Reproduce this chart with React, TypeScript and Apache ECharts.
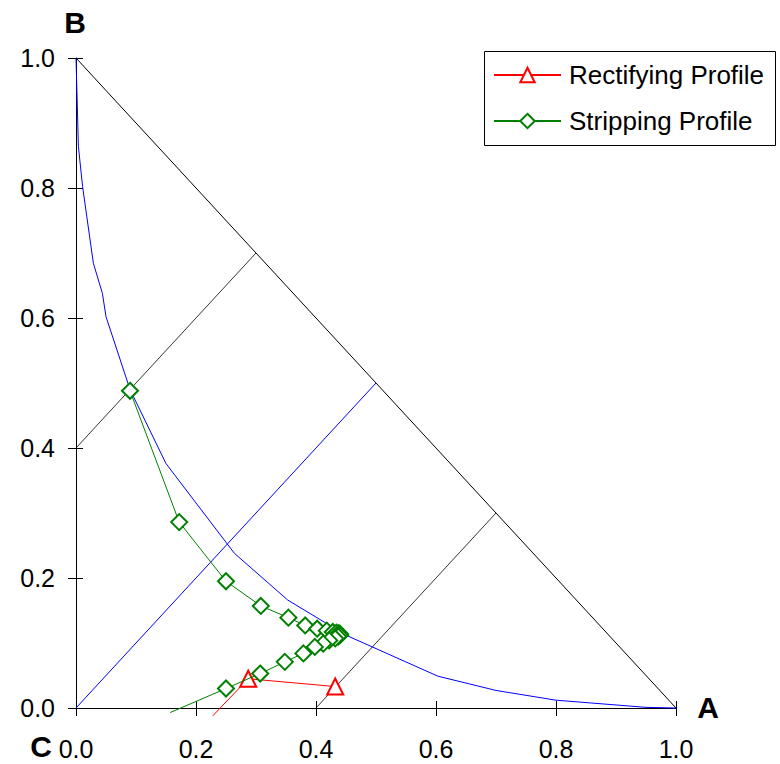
import React, { useEffect, useRef } from "react";
import * as echarts from "echarts";

const tickLabels = ["0.0", "0.2", "0.4", "0.6", "0.8", "1.0"];

// Equilibrium (binodal) curve
const eqCurve: [number, number][] = [
  [0, 1], [0.004, 0.864], [0.011, 0.802], [0.029, 0.684], [0.044, 0.638],
  [0.05, 0.602], [0.09, 0.49], [0.15, 0.376], [0.264, 0.238], [0.353, 0.166],
  [0.45, 0.112], [0.603, 0.049], [0.7, 0.027], [0.8, 0.012], [0.95, 0.001], [1, 0],
];

// Triangle boundary (hypotenuse)
const hypotenuse: [number, number][] = [[0, 1], [1, 0]];
// Black construction lines
const blackLineA: [number, number][] = [[0, 0.4], [0.3, 0.7]];
const blackLineB: [number, number][] = [[0.4, 0], [0.7, 0.3]];
// Blue construction line
const blueLine: [number, number][] = [[0, 0], [0.5, 0.5]];

// Rectifying profile (last point has no marker)
const rectifyingX = [0.432, 0.287, 0.228];
const rectifyingY = [0.033, 0.045, -0.012];

// Stripping profile (last point has no marker)
const strippingX = [
  0.09, 0.172, 0.25, 0.308, 0.354, 0.382, 0.402, 0.418, 0.428, 0.434, 0.438, 0.44,
  0.44, 0.437, 0.432, 0.422, 0.412, 0.398, 0.379, 0.348, 0.307, 0.25, 0.157,
];
const strippingY = [
  0.488, 0.286, 0.195, 0.157, 0.139, 0.127, 0.122, 0.119, 0.117, 0.116, 0.115, 0.114,
  0.112, 0.11, 0.107, 0.104, 0.099, 0.094, 0.084, 0.071, 0.053, 0.03, -0.007,
];

const FONT = "Liberation Sans, Arial, sans-serif";

export default function App() {
  const ref = useRef<HTMLDivElement>(null);
  useEffect(() => {
    if (!ref.current) return;
    const chart = echarts.init(ref.current, undefined, { renderer: "svg" });

    const mk = (xs: number[], ys: number[]) =>
      xs.map((x, i) =>
        i === xs.length - 1
          ? { value: [x, ys[i]], symbol: "none" }
          : { value: [x, ys[i]] }
      );

    const fmt = (v: number) => tickLabels[Math.round(v / 0.2)] ?? v.toFixed(1);

    const plainLine = (data: [number, number][], color: string, width = 1) => ({
      type: "line",
      data,
      symbol: "none",
      silent: true,
      clip: false,
      lineStyle: { color, width },
      z: 1,
    });

    chart.setOption({
      animation: false,
      backgroundColor: "#fff",
      grid: { left: 76, top: 58, width: 600, height: 650, containLabel: false },
      xAxis: [
        {
          type: "value",
          min: 0,
          max: 1,
          interval: 0.2,
          position: "bottom",
          splitLine: { show: false },
          axisLine: { show: true, onZero: false, lineStyle: { color: "#000", width: 1 } },
          axisTick: { show: true, inside: false, length: 8, lineStyle: { color: "#000" } },
          axisLabel: {
            formatter: fmt,
            margin: 28,
            color: "#000",
            fontSize: 25,
            fontFamily: FONT,
          },
        },
        {
          type: "value",
          min: 0,
          max: 1,
          interval: 0.2,
          position: "bottom",
          offset: 0,
          splitLine: { show: false },
          axisLine: { show: false, onZero: false },
          axisTick: { show: true, inside: true, length: 7, lineStyle: { color: "#000" } },
          axisLabel: { show: false },
        },
      ],
      yAxis: [
        {
          type: "value",
          min: 0,
          max: 1,
          interval: 0.2,
          position: "left",
          splitLine: { show: false },
          axisLine: { show: true, onZero: false, lineStyle: { color: "#000", width: 1 } },
          axisTick: { show: true, inside: false, length: 8, lineStyle: { color: "#000" } },
          axisLabel: {
            formatter: fmt,
            margin: 21,
            color: "#000",
            fontSize: 25,
            fontFamily: FONT,
          },
        },
        {
          type: "value",
          min: 0,
          max: 1,
          interval: 0.2,
          position: "left",
          offset: 0,
          splitLine: { show: false },
          axisLine: { show: false, onZero: false },
          axisTick: { show: true, inside: true, length: 7, lineStyle: { color: "#000" } },
          axisLabel: { show: false },
        },
      ],
      legend: {
        orient: "vertical",
        left: 493,
        top: 62,
        itemWidth: 67,
        itemHeight: 18,
        itemGap: 20,
        padding: 0,
        data: ["Rectifying Profile", "Stripping Profile"],
        textStyle: {
          fontSize: 26,
          fontFamily: FONT,
          color: "#000",
          lineHeight: 26,
          padding: [0, 0, 0, 3],
        },
      },
      graphic: [
        {
          type: "rect",
          shape: { x: 484.5, y: 51.5, width: 291, height: 94 },
          style: { fill: "none", stroke: "#000", lineWidth: 1 },
          z: 10,
          silent: true,
        },
        {
          type: "text",
          x: 75,
          y: 22,
          style: {
            text: "B",
            font: `bold 30px ${FONT}`,
            fill: "#000",
            align: "center",
            verticalAlign: "middle",
          },
        },
        {
          type: "text",
          x: 708,
          y: 707,
          style: {
            text: "A",
            font: `bold 30px ${FONT}`,
            fill: "#000",
            align: "center",
            verticalAlign: "middle",
          },
        },
        {
          type: "text",
          x: 41,
          y: 746,
          style: {
            text: "C",
            font: `bold 30px ${FONT}`,
            fill: "#000",
            align: "center",
            verticalAlign: "middle",
          },
        },
      ],
      series: [
        plainLine(hypotenuse, "#000"),
        plainLine(blackLineA, "#000", 0.8),
        plainLine(blackLineB, "#000", 0.8),
        plainLine(blueLine, "#0000ff"),
        plainLine(eqCurve, "#0000ff"),
        {
          name: "Rectifying Profile",
          type: "line",
          data: mk(rectifyingX, rectifyingY),
          clip: false,
          symbol: "triangle",
          symbolSize: 16,
          showAllSymbol: true,
          lineStyle: { color: "#ff0000", width: 1 },
          itemStyle: { color: "#fff", borderColor: "#ff0000", borderWidth: 2 },
          z: 3,
        },
        {
          name: "Stripping Profile",
          type: "line",
          data: mk(strippingX, strippingY),
          clip: false,
          symbol: "diamond",
          symbolSize: 16,
          showAllSymbol: true,
          lineStyle: { color: "#008000", width: 1 },
          itemStyle: { color: "#fff", borderColor: "#008000", borderWidth: 2 },
          z: 4,
        },
      ],
    });
    return () => chart.dispose();
  }, []);
  return (
    <div
      ref={ref}
      style={{ position: "fixed", left: 0, top: 0, width: 780, height: 764 }}
    />
  );
}
